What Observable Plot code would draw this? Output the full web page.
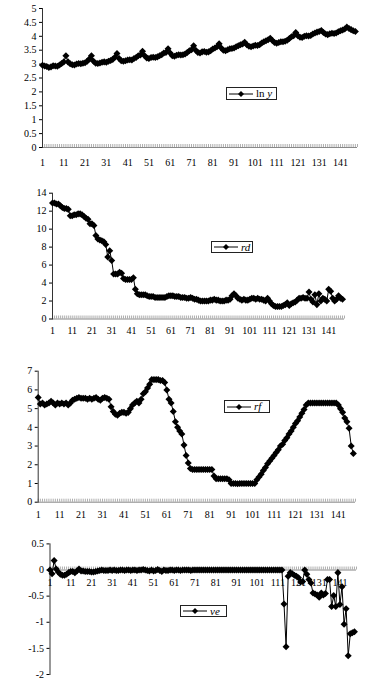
<!DOCTYPE html>
<html><head><meta charset="utf-8">
<script src="https://cdn.jsdelivr.net/npm/d3@7"></script>
<script src="https://cdn.jsdelivr.net/npm/@observablehq/plot@0.6"></script>
<style>
html,body{margin:0;padding:0;background:#fff;}
#wrap{position:relative;width:377px;height:685px;overflow:hidden;font-family:'Liberation Serif','Times New Roman',Times,'DejaVu Serif',serif;color:#000;}
.panel{position:absolute;left:0;}
.panel text{font-family:'Liberation Serif','Times New Roman',Times,'DejaVu Serif',serif;}
.legend{position:absolute;box-sizing:border-box;border:1px solid #222;background:#fff;display:flex;align-items:center;font-family:'Liberation Serif','Times New Roman',Times,'DejaVu Serif',serif;font-size:11px;line-height:1;white-space:nowrap;}
.legend svg{display:block;margin:0 3px 0 2px;}
</style></head>
<body><div id="wrap"></div>
<script>
// ---- data ----
const xLabels = [1, 11, 21, 31, 41, 51, 61, 71, 81, 91, 101, 111, 121, 131, 141];

const lnY = [
  2.96, 2.93, 2.91, 2.88, 2.90, 2.94, 2.93, 2.92, 2.97, 3.02, 3.08, 3.30,
  3.08, 3.01, 2.98, 2.97, 3.00, 3.02, 3.01, 3.03, 3.05, 3.10, 3.18, 3.30,
  3.10, 3.03, 3.02, 3.04, 3.07, 3.08, 3.07, 3.10, 3.13, 3.17, 3.25, 3.38,
  3.20, 3.12, 3.10, 3.12, 3.15, 3.16, 3.15, 3.20, 3.24, 3.30, 3.33, 3.46,
  3.30, 3.22, 3.20, 3.24, 3.25, 3.24, 3.26, 3.30, 3.34, 3.40, 3.42, 3.55,
  3.40, 3.30, 3.28, 3.32, 3.34, 3.33, 3.34, 3.36, 3.42, 3.48, 3.52, 3.66,
  3.50, 3.42, 3.40, 3.44, 3.45, 3.43, 3.44, 3.48, 3.54, 3.58, 3.62, 3.73,
  3.58, 3.50, 3.48, 3.52, 3.55, 3.56, 3.58, 3.62, 3.66, 3.70, 3.72, 3.79,
  3.70, 3.64, 3.62, 3.65, 3.68, 3.67, 3.70, 3.76, 3.80, 3.84, 3.88, 3.93,
  3.85, 3.78, 3.75, 3.78, 3.80, 3.80, 3.82, 3.86, 3.92, 3.98, 4.02, 4.14,
  4.02, 3.97, 3.96, 4.00, 4.02, 4.01, 4.03, 4.08, 4.12, 4.15, 4.17, 4.21,
  4.14, 4.08, 4.06, 4.09, 4.11, 4.10, 4.12, 4.16, 4.20, 4.23, 4.26, 4.33,
  4.28, 4.24, 4.20, 4.17
];

const rd = [
  12.9, 12.9, 12.8, 12.8, 12.6, 12.4, 12.3, 12.3, 12.2, 11.5,
  11.5, 11.6, 11.6, 11.7, 11.7, 11.6, 11.4, 11.2, 11.1, 10.6,
  10.6, 10.4, 9.3, 8.9, 8.8, 8.7, 8.6, 8.3, 6.9, 7.6,
  6.5, 5.0, 5.0, 5.0, 5.2, 5.1, 4.5, 4.4, 4.4, 4.4,
  4.4, 4.6, 3.3, 2.8, 2.7, 2.7, 2.7, 2.7, 2.6, 2.5,
  2.5, 2.5, 2.4, 2.4, 2.4, 2.4, 2.4, 2.4, 2.5, 2.6,
  2.6, 2.6, 2.5, 2.5, 2.5, 2.4, 2.4, 2.4, 2.3, 2.3,
  2.4, 2.3, 2.2, 2.2, 2.1, 2.0, 2.0, 2.0, 2.0, 2.0,
  2.1, 2.1, 2.2, 2.1, 2.1, 2.0, 2.0, 2.0, 2.1, 2.1,
  2.2, 2.6, 2.8, 2.6, 2.3, 2.2, 2.1, 2.2, 2.1, 2.1,
  2.2, 2.3, 2.3, 2.2, 2.3, 2.2, 2.2, 2.1, 2.0, 2.3,
  2.0, 1.7, 1.5, 1.4, 1.4, 1.4, 1.4, 1.5, 1.6, 1.8,
  1.5, 1.7, 1.8, 1.9, 2.1, 2.3, 2.3, 2.4, 2.3, 2.3,
  3.0, 2.2, 1.9, 2.7, 1.6, 2.8, 2.0, 2.3, 2.2, 2.0,
  3.3, 3.1, 2.3, 2.0, 2.2, 2.6, 2.3, 2.2
];

const rf = [
  5.6, 5.25, 5.3, 5.2, 5.25, 5.3, 5.4, 5.3, 5.2, 5.3,
  5.25, 5.3, 5.25, 5.3, 5.2, 5.3, 5.45, 5.5, 5.55, 5.6,
  5.55, 5.55, 5.55, 5.5, 5.55, 5.5, 5.55, 5.6, 5.5, 5.45,
  5.55, 5.6, 5.55, 5.5, 5.1, 4.85, 4.7, 4.65, 4.75, 4.8,
  4.8, 4.75, 4.8, 5.0, 5.2, 5.3, 5.4, 5.3, 5.5, 5.8,
  5.9, 6.1, 6.3, 6.55, 6.55, 6.55, 6.55, 6.5, 6.5, 6.4,
  6.0, 5.5, 5.3, 4.85, 4.3, 4.0, 3.8, 3.65, 3.05, 2.5,
  2.1, 1.8, 1.75, 1.75, 1.75, 1.75, 1.75, 1.75, 1.75, 1.75,
  1.75, 1.75, 1.4, 1.25, 1.25, 1.25, 1.25, 1.25, 1.25, 1.2,
  1.0, 1.0, 1.0, 0.98, 1.0, 1.0, 1.0, 1.0, 1.0, 1.0,
  1.0, 1.0, 1.2, 1.35, 1.5, 1.7, 1.85, 2.05, 2.2, 2.35,
  2.5, 2.65, 2.8, 3.0, 3.1, 3.3, 3.45, 3.65, 3.8, 4.0,
  4.2, 4.35, 4.55, 4.75, 4.95, 5.2, 5.3, 5.3, 5.3, 5.3,
  5.3, 5.3, 5.3, 5.3, 5.3, 5.3, 5.3, 5.3, 5.3, 5.3,
  5.2, 5.0, 4.8, 4.5, 4.3, 3.95, 3.0, 2.6
];

const ve = [
  0, -0.07, 0.18, 0.02, -0.04, -0.08, -0.1, -0.1, -0.08, -0.05,
  -0.03, -0.03, -0.05, -0.02, 0.02, -0.02, -0.02, -0.03, -0.03, -0.03,
  -0.04, -0.04, -0.03, -0.02, -0.01, 0, -0.01, -0.01, -0.01, 0,
  -0.01, 0, -0.01, -0.01, 0, 0, -0.01, 0, 0, -0.01,
  0, 0, -0.01, 0, 0, 0.01, 0, -0.01, -0.02, 0,
  -0.02, -0.01, 0.01, -0.01, -0.03, 0, -0.01, -0.01, 0, 0,
  -0.01, 0, 0, -0.01, 0, 0, 0, 0, -0.01, 0,
  0, 0, 0, 0, 0, 0, 0, 0, 0, 0,
  0, 0, 0, 0, 0, 0, 0, 0, 0, 0,
  0, 0, 0, 0, 0, 0, 0, 0, 0, 0,
  0, 0, 0, 0, 0, 0, 0, 0, 0, 0,
  0, 0, 0, -0.65, -1.47, -0.12, -0.05, -0.07, -0.1, -0.12,
  -0.15, -0.23, -0.22, 0, -0.08, -0.18, -0.25, -0.44, -0.46, -0.48,
  -0.52, -0.44, -0.48, -0.45, -0.18, -0.18, -0.7, -0.49, -0.7, -0.05,
  -0.66, -0.32, -1.04, -0.74, -1.64, -1.22, -1.2, -1.18
];

const ticks1 = [0, 0.5, 1, 1.5, 2, 2.5, 3, 3.5, 4, 4.5, 5];
const ticks2 = [0, 2, 4, 6, 8, 10, 12, 14];
const ticks3 = [0, 1, 2, 3, 4, 5, 6, 7];
const ticks4 = [0.5, 0, -0.5, -1, -1.5, -2];

// ---- drawing ----
const FONT = "'Liberation Serif','Times New Roman',Times,'DejaVu Serif',serif";
const diamond = {
  draw(ctx, size) {
    const h = Math.sqrt(size / 2);
    ctx.moveTo(0, -h); ctx.lineTo(h, 0); ctx.lineTo(0, h); ctx.lineTo(-h, 0); ctx.closePath();
  }
};

const wrap = document.getElementById("wrap");

function panel(values, cfg) {
  const data = values.map((v, k) => ({i: k + 1, v}));
  const cats = d3.range(1, 150);
  const chart = Plot.plot({
    width: 377,
    height: cfg.height,
    marginLeft: cfg.left,
    marginRight: 377 - cfg.right,
    marginTop: cfg.top,
    marginBottom: cfg.height - cfg.bottom,
    x: {domain: [1, 149], axis: null},
    y: {domain: cfg.domain, axis: null},
    style: {fontFamily: FONT, fontSize: "10px", color: "#000", background: "transparent", overflow: "visible"},
    marks: [
      Plot.ruleY([0], {stroke: "#888", strokeWidth: 1}),
      Plot.ruleX(cats, {x: d => d, y1: 0, y2: 0, insetTop: -3, stroke: "#999", strokeWidth: 0.8}),
      Plot.frame({anchor: "left", stroke: "#333"}),
      Plot.axisY({ticks: cfg.yticks, label: null, tickSize: 3, tickPadding: 3, tickFormat: d => String(d), fontSize: 10, fontFamily: FONT}),
      Plot.text(xLabels, {x: d => d, y: 0, dy: cfg.labelDy, text: d => String(d), fontSize: 10, fontFamily: FONT}),
      Plot.line(data, {x: "i", y: "v", stroke: "#000", strokeWidth: 1}),
      Plot.dot(data, {x: "i", y: "v", symbol: diamond, r: 2.8, fill: "#000", stroke: "none"})
    ]
  });
  chart.classList.add("panel");
  chart.style.top = cfg.svgTop + "px";
  wrap.appendChild(chart);

  const lg = document.createElement("div");
  lg.className = "legend";
  lg.style.left = cfg.lg[0] + "px";
  lg.style.top = cfg.lg[1] + "px";
  lg.style.width = cfg.lg[2] + "px";
  lg.style.height = cfg.lg[3] + "px";
  lg.innerHTML = `<svg width="24" height="8"><line x1="0" y1="4" x2="24" y2="4" stroke="#000"/><path d="M12,1L15,4L12,7L9,4Z" fill="#000"/></svg><span>${cfg.name}</span>`;
  wrap.appendChild(lg);
}

panel(lnY, {svgTop: 0, height: 175, top: 8, bottom: 147, left: 42, right: 357, domain: [0, 5], yticks: ticks1, labelDy: 15, lg: [226, 87, 51, 13], name: 'ln <i>y</i>'});
panel(rd, {svgTop: 180, height: 160, top: 12.7, bottom: 138.5, left: 52, right: 344, domain: [0, 14], yticks: ticks2, labelDy: 12, lg: [211, 241, 42, 12], name: '<i>rd</i>'});
panel(rf, {svgTop: 360, height: 165, top: 10.7, bottom: 141.7, left: 37.7, right: 355, domain: [0, 7], yticks: ticks3, labelDy: 13, lg: [224, 400, 46, 13], name: '<i>rf</i>'});
panel(ve, {svgTop: 535, height: 150, top: 8.4, bottom: 139, left: 49.5, right: 356, domain: [-2, 0.5], yticks: ticks4, labelDy: 13, lg: [180, 605, 47, 12], name: '<i>ve</i>'});
</script>
</body></html>
